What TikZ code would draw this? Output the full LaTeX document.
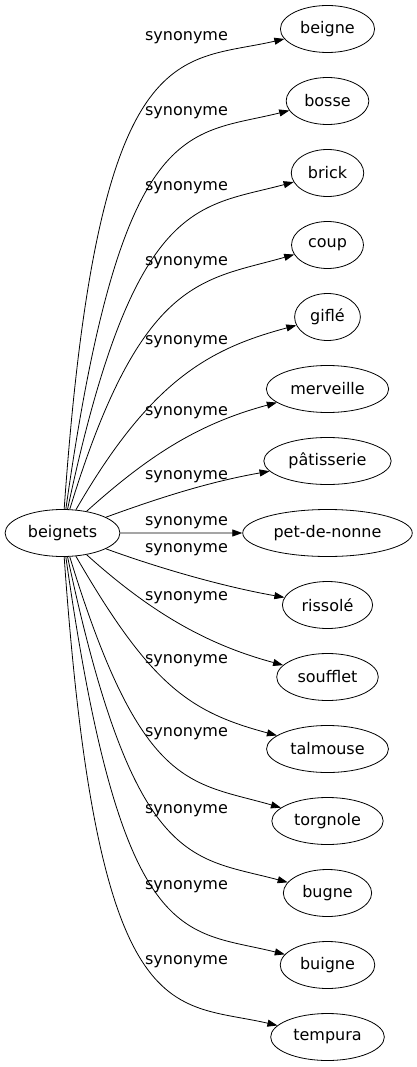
\documentclass[tikz,border=0pt]{standalone}
\usepackage{fontspec}
\setmainfont{DejaVu Sans}
\usetikzlibrary{shapes.geometric, arrows.meta, positioning}
\tikzset{
    word/.style={
        ellipse,
        draw=black,
        line width=0.8pt,
        minimum height=47pt,
        inner xsep=6pt,
        inner ysep=2pt,
        font=\fontsize{16}{19}\selectfont
    },
    arrow/.style={
        ->,
        >={Triangle[length=10pt,width=7pt]},
        line width=0.8pt
    },
    rel/.style={
        inner sep=0pt,
        font=\fontsize{16}{19}\selectfont
    }
}

\begin{document}
\begin{tikzpicture}[x=1pt, y=1pt, node distance=24.2pt]

    \useasboundingbox (0,0) rectangle (416,-1067);

    % Source word
    \node[word] (beignets) at (62.5,-533) {beignets};

    % Synonyms
    \node[word] (beigne) at (327.5,-29) {beigne};
    \node[word, below=of beigne] (bosse) {bosse};
    \node[word, below=of bosse] (brick) {brick};
    \node[word, below=of brick] (coup) {coup};
    \node[word, below=of coup] (gifle) {giflé};
    \node[word, below=of gifle] (merveille) {merveille};
    \node[word, below=of merveille] (patisserie) {pâtisserie};
    \node[word, below=of patisserie] (pet) {pet-de-nonne};
    \node[word, below=of pet] (rissole) {rissolé};
    \node[word, below=of rissole] (soufflet) {soufflet};
    \node[word, below=of soufflet] (talmouse) {talmouse};
    \node[word, below=of talmouse] (torgnole) {torgnole};
    \node[word, below=of torgnole] (bugne) {bugne};
    \node[word, below=of bugne] (buigne) {buigne};
    \node[word, below=of buigne] (tempura) {tempura};

    % Edge labels
    \node[rel] (syn1) at (186.5,-38) {synonyme};
    \node[rel] (syn2) at (186.5,-113) {synonyme};
    \node[rel] (syn3) at (186.5,-188) {synonyme};
    \node[rel] (syn4) at (186.5,-263) {synonyme};
    \node[rel] (syn5) at (186.5,-342) {synonyme};
    \node[rel] (syn6) at (186.5,-413) {synonyme};
    \node[rel] (syn7) at (186.5,-477) {synonyme};
    \node[rel] (syn8) at (186.5,-523) {synonyme};
    \node[rel] (syn9) at (186.5,-550) {synonyme};
    \node[rel] (syn10) at (186.5,-598) {synonyme};
    \node[rel] (syn11) at (186.5,-661) {synonyme};
    \node[rel] (syn12) at (186.5,-734) {synonyme};
    \node[rel] (syn13) at (186.5,-811) {synonyme};
    \node[rel] (syn14) at (186.5,-887) {synonyme};
    \node[rel] (syn15) at (186.5,-962) {synonyme};

    % Upper edges
    \draw[arrow] (beignets) to[out=86, in=193, out distance=480pt, in distance=110pt] (beigne);
    \draw[arrow] (beignets) to[out=82, in=194, out distance=400pt, in distance=105pt] (bosse);
    \draw[arrow] (beignets) to[out=78, in=195, out distance=320pt, in distance=100pt] (brick);
    \draw[arrow] (beignets) to[out=73, in=196, out distance=245pt, in distance=95pt] (coup);
    \draw[arrow] (beignets) to[out=60, in=195, out distance=150pt, in distance=90pt] (gifle);
    \draw[arrow] (beignets) to[out=42, in=195, out distance=85pt, in distance=80pt] (merveille);
    \draw[arrow] (beignets) to[out=20, in=190, out distance=60pt, in distance=60pt] (patisserie);

    % Middle edge
    \draw[arrow] (beignets) -- (pet);

    % Lower edges
    \draw[arrow] (beignets) to[out=-20, in=170, out distance=60pt, in distance=60pt] (rissole);
    \draw[arrow] (beignets) to[out=-42, in=165, out distance=85pt, in distance=80pt] (soufflet);
    \draw[arrow] (beignets) to[out=-60, in=165, out distance=150pt, in distance=90pt] (talmouse);
    \draw[arrow] (beignets) to[out=-73, in=164, out distance=245pt, in distance=95pt] (torgnole);
    \draw[arrow] (beignets) to[out=-78, in=165, out distance=320pt, in distance=100pt] (bugne);
    \draw[arrow] (beignets) to[out=-82, in=166, out distance=400pt, in distance=105pt] (buigne);
    \draw[arrow] (beignets) to[out=-86, in=167, out distance=480pt, in distance=110pt] (tempura);

\end{tikzpicture}
\end{document}
